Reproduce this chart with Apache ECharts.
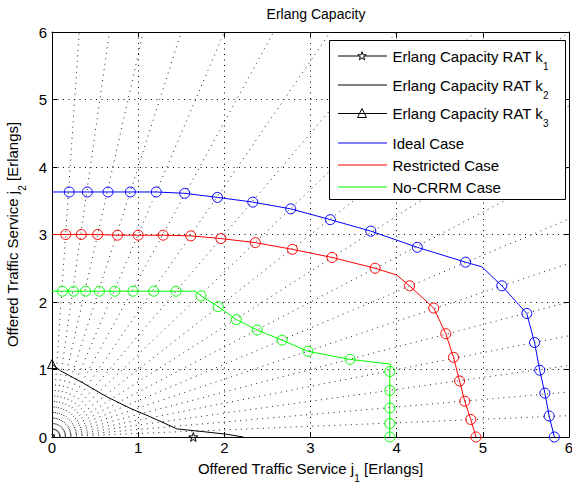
<!DOCTYPE html>
<html><head><meta charset="utf-8">
<script src="https://cdn.jsdelivr.net/npm/echarts@6/dist/echarts.min.js"></script>
<style>html,body{margin:0;padding:0;background:#fff}#c{width:572px;height:483px}</style>
</head><body><div id="c"></div>
<script>
const FONT = '"Liberation Sans", Arial, Helvetica, sans-serif';
const titleText = 'Erlang Capacity';
const xTicks = [0, 1, 2, 3, 4, 5, 6];
const yTicks = [0, 1, 2, 3, 4, 5, 6];
// traffic-mix fractions of the dotted rays from the origin
const rayMix = [0.05, 0.10, 0.15, 0.20, 0.25, 0.30, 0.35, 0.40, 0.45, 0.50,
                0.55, 0.60, 0.65, 0.70, 0.75, 0.80, 0.85, 0.90, 0.95];

const rat1 = [[1.64, 0]];
const rat2 = [[0, 1.08], [0.1, 0.98], [0.36, 0.80], [0.63, 0.60], [0.9, 0.43], [1.14, 0.30],
              [1.45, 0.12], [1.75, 0.08], [2.03, 0.04], [2.22, 0.0]];
const rat3 = [[0, 1.08]];

const ideal = [[0, 3.63], [0.20, 3.63], [0.41, 3.63], [0.65, 3.63], [0.91, 3.63], [1.21, 3.63],
               [1.54, 3.61], [1.92, 3.55], [2.33, 3.48], [2.77, 3.38], [3.23, 3.22], [3.70, 3.05],
               [4.24, 2.81], [4.80, 2.59], [4.99, 2.52], [5.22, 2.24], [5.51, 1.83], [5.60, 1.40],
               [5.66, 0.99], [5.72, 0.65], [5.77, 0.31], [5.83, 0]];
const idealNoMarker = [0, 14];

const restricted = [[0, 3.0], [0.16, 3.0], [0.34, 3.0], [0.53, 3.0], [0.76, 2.99], [1.00, 2.99],
                    [1.29, 2.99], [1.61, 2.98], [1.96, 2.94], [2.36, 2.88], [2.79, 2.78], [3.25, 2.66],
                    [3.75, 2.50], [4.00, 2.40], [4.15, 2.24], [4.43, 1.91], [4.57, 1.53], [4.66, 1.18],
                    [4.73, 0.83], [4.79, 0.53], [4.86, 0.26], [4.92, 0]];
const restrictedNoMarker = [0, 13];

const noCrrm = [[0, 2.16], [0.12, 2.16], [0.25, 2.16], [0.39, 2.16], [0.55, 2.16], [0.73, 2.16],
                [0.94, 2.16], [1.18, 2.16], [1.44, 2.16], [1.66, 2.16], [1.73, 2.09], [1.93, 1.93],
                [2.14, 1.74], [2.38, 1.585], [2.67, 1.435], [2.97, 1.27], [3.46, 1.15], [3.93, 1.08],
                [3.92, 0.97], [3.92, 0.69], [3.92, 0.43], [3.92, 0.20], [3.92, 0]];
const noCrrmNoMarker = [0, 9, 17];

const names = ['Erlang Capacity RAT k1', 'Erlang Capacity RAT k2', 'Erlang Capacity RAT k3',
               'Ideal Case', 'Restricted Case', 'No-CRRM Case'];

// pentagram outline in a 100x100 box
const starUnit = [[50, 0], [61.2, 34.5], [97.6, 34.5], [68.2, 55.9], [79.4, 90.5], [50, 69.1],
                  [20.6, 90.5], [31.8, 55.9], [2.4, 34.5], [38.8, 34.5]];
const STAR = 'path://M' + starUnit.map(p => p[0] + ',' + p[1]).join('L') + 'Z';

const richAxis = {
  n: { fontSize: 15, lineHeight: 18, fontFamily: FONT, color: '#000' },
  s: { fontSize: 10, lineHeight: 10, fontFamily: FONT, color: '#000', verticalAlign: 'top', padding: [14, 0, 0, 0] }
};
const richGfx = {
  n: { fontSize: 15, lineHeight: 18, fontFamily: FONT, fill: '#000' },
  s: { fontSize: 10, lineHeight: 10, fontFamily: FONT, fill: '#000', verticalAlign: 'top', padding: [14, 0, 0, 0] }
};

function markSeries(name, pts, noMark, color) {
  return {
    type: 'line', name: name, z: 5,
    data: pts.map((p, i) => noMark.indexOf(i) >= 0 ? { value: p, symbol: 'none' } : { value: p }),
    symbol: 'circle', symbolSize: 10, showAllSymbol: true,
    lineStyle: { color: color, width: 1 },
    itemStyle: { color: 'rgba(0,0,0,0)', borderColor: color, borderWidth: 1 },
    emphasis: { disabled: true }, silent: true
  };
}

const series = [];
rayMix.forEach(a => {
  const m = Math.max(a, 1 - a);
  series.push({
    type: 'line', silent: true, symbol: 'none', z: 1,
    data: [[0, 0], [6 * a / m, 6 * (1 - a) / m]],
    lineStyle: { color: '#222', width: 1, type: [1, 4.5], dashOffset: -2 }
  });
});
series.push({
  type: 'line', name: names[0], data: rat1, symbol: STAR, symbolSize: 9, z: 6,
  lineStyle: { color: '#000', width: 1 },
  itemStyle: { color: 'rgba(0,0,0,0)', borderColor: '#000', borderWidth: 1 }, silent: true
});
series.push({
  type: 'line', name: names[1], data: rat2, symbol: 'none', z: 6,
  lineStyle: { color: '#000', width: 1 }, silent: true
});
series.push({
  type: 'line', name: names[2], data: rat3, symbol: 'triangle', symbolSize: 9, z: 6,
  lineStyle: { color: '#000', width: 1 },
  itemStyle: { color: 'rgba(0,0,0,0)', borderColor: '#000', borderWidth: 1 }, silent: true
});
series.push(markSeries(names[3], ideal, idealNoMarker, '#0000ff'));
series.push(markSeries(names[4], restricted, restrictedNoMarker, '#ff0000'));
series.push(markSeries(names[5], noCrrm, noCrrmNoMarker, '#00ff00'));

function axisBase(extra) {
  return Object.assign({
    type: 'value', min: 0, max: 6, interval: 1,
    axisLine: { show: true, onZero: false, lineStyle: { color: '#000', width: 1 } },
    axisTick: { show: true, inside: true, length: 5, lineStyle: { color: '#000' } },
    splitLine: { show: false },
    axisLabel: { show: false }
  }, extra);
}

// legend (drawn as graphic elements to copy the boxed MATLAB legend)
const legendRows = [
  { label: 'Erlang Capacity RAT k', sub: '1', color: '#000', mark: 'star', y: 56 },
  { label: 'Erlang Capacity RAT k', sub: '2', color: '#000', mark: null, y: 85 },
  { label: 'Erlang Capacity RAT k', sub: '3', color: '#000', mark: 'tri', y: 113.5 },
  { label: 'Ideal Case', color: '#0000ff', mark: null, y: 143, w: 1.2 },
  { label: 'Restricted Case', color: '#ff0000', mark: null, y: 165, w: 1.2 },
  { label: 'No-CRRM Case', color: '#00ff00', mark: null, y: 187, w: 1.2 }
];
const graphics = [{
  type: 'rect', z: 100, shape: { x: 329.5, y: 40.5, width: 236, height: 159 },
  style: { fill: '#fff', stroke: '#000', lineWidth: 1 }, silent: true
}];
legendRows.forEach(r => {
  graphics.push({ type: 'line', z: 101, silent: true,
    shape: { x1: 338, y1: r.y, x2: 387, y2: r.y }, style: { stroke: r.color, lineWidth: r.w || 1 } });
  if (r.sub) {
    graphics.push({ type: 'text', z: 101, silent: true, x: 392.5, y: r.y,
      style: { text: '{n|' + r.label + '}{s|' + r.sub + '}', rich: richGfx, align: 'left', verticalAlign: 'middle' } });
  } else {
    graphics.push({ type: 'text', z: 101, silent: true, x: 392.5, y: r.y,
      style: { text: r.label, fontSize: 15, fontFamily: FONT, fill: '#000', align: 'left', verticalAlign: 'middle' } });
  }
  if (r.mark === 'star') {
    graphics.push({ type: 'polygon', z: 102, silent: true,
      shape: { points: starUnit.map(p => [357.5 + p[0] * 0.09, r.y - 4.3 + p[1] * 0.09]) },
      style: { fill: '#fff', stroke: '#000', lineWidth: 1 } });
  } else if (r.mark === 'tri') {
    graphics.push({ type: 'polygon', z: 102, silent: true,
      shape: { points: [[362, r.y - 5], [366.5, r.y + 4], [357.5, r.y + 4]] },
      style: { fill: '#fff', stroke: '#000', lineWidth: 1 } });
    graphics.push({ type: 'line', z: 103, silent: true,
      shape: { x1: 357.5, y1: r.y, x2: 366.5, y2: r.y }, style: { stroke: '#000', lineWidth: 1 } });
  }
});

const chart = echarts.init(document.getElementById('c'), null, { renderer: 'svg' });
chart.setOption({
  animation: false,
  backgroundColor: '#fff',
  title: {
    text: titleText, left: 316, top: 7, padding: 0, textAlign: 'center',
    textStyle: { fontSize: 14, fontWeight: 'normal', fontFamily: FONT, color: '#000' }
  },
  grid: { left: 52, right: 3, top: 32, bottom: 46, containLabel: false, outerBoundsMode: 'none' },
  xAxis: [
    axisBase({
      position: 'bottom',
      name: '{n|Offered Traffic Service j}{s|1}{n| [Erlangs]}',
      nameLocation: 'middle', nameGap: 20,
      nameTextStyle: { rich: richAxis },
      axisLabel: { show: true, customValues: xTicks, margin: 3, fontSize: 15, fontFamily: FONT, color: '#000' },
      axisTick: { show: true, inside: true, length: 5, customValues: xTicks, lineStyle: { color: '#000' } },
      splitLine: { show: true, lineStyle: { color: '#000', width: 1, type: [1, 4.5] } }
    }),
    axisBase({ position: 'top' })
  ],
  yAxis: [
    axisBase({
      position: 'left',
      name: '{n|Offered Traffic Service j}{s|2}{n| [Erlangs]}',
      nameLocation: 'middle', nameGap: 17, nameRotate: 90,
      nameTextStyle: { rich: richAxis },
      axisLabel: { show: true, customValues: yTicks, margin: 5, fontSize: 15, fontFamily: FONT, color: '#000' },
      axisTick: { show: true, inside: true, length: 5, customValues: yTicks, lineStyle: { color: '#000' } },
      splitLine: { show: true, lineStyle: { color: '#000', width: 1, type: [1, 4.5] } }
    }),
    axisBase({ position: 'right' })
  ],
  series: series,
  graphic: graphics
});
</script></body></html>
